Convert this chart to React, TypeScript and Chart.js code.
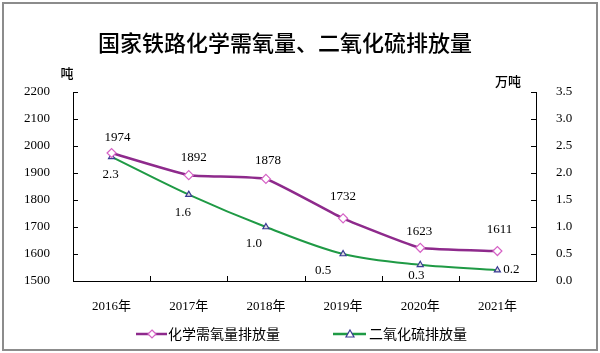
import React, { useEffect, useRef } from "react";
import { Chart, registerables } from "chart.js";

Chart.register(...registerables);

const years = ["2016年", "2017年", "2018年", "2019年", "2020年", "2021年"];
const codValues = [1974, 1892, 1878, 1732, 1623, 1611];
const so2Values = [2.3, 1.6, 1.0, 0.5, 0.3, 0.2];
const codLabel = "化学需氧量排放量";
const so2Label = "二氧化硫排放量";
const titleText = "国家铁路化学需氧量、二氧化硫排放量";
const leftUnit = "吨";
const rightUnit = "万吨";

const PURPLE = "#8E2A8C";
const PURPLE_PT = "#D663C6";
const GREEN = "#1F9A45";
const TRI = "#3B3B94";
const SERIF = "'Liberation Serif', 'Noto Sans CJK SC', serif";
const CJK = "'Noto Sans CJK SC', sans-serif";

// label offsets (style only)
const codLabelOffsets = [[6, -15], [5, -18], [2, -18], [0, -22], [-1, -16], [2, -21]];
const so2LabelOffsets = [[-1, 18], [-6, 18], [-12, 17], [-20, 17], [-4, 11], [14, -1]];

const overlayPlugin = {
  id: "overlay",
  afterDraw(chart: any) {
    const ctx = chart.ctx;
    const area = chart.chartArea;
    const yL = chart.scales.y;
    const yR = chart.scales.y1;
    ctx.save();
    ctx.strokeStyle = "#8c8c8c";
    ctx.lineWidth = 2;
    ctx.strokeRect(3, 3, 594, 347);

    ctx.fillStyle = "#000";
    ctx.textAlign = "center";
    ctx.textBaseline = "middle";
    ctx.font = `500 22px ${CJK}`;
    ctx.fillText(titleText, 285, 43);

    ctx.font = `500 13px ${CJK}`;
    ctx.fillText(leftUnit, 67, 73);
    ctx.fillText(rightUnit, 508, 81);

    ctx.strokeStyle = "#000";
    ctx.lineWidth = 1;
    ctx.beginPath();
    yL.ticks.forEach((t: any) => {
      const py = Math.round(yL.getPixelForValue(t.value)) + 0.5;
      ctx.moveTo(area.left, py);
      ctx.lineTo(area.left + 5, py);
    });
    yR.ticks.forEach((t: any) => {
      const py = Math.round(yR.getPixelForValue(t.value)) + 0.5;
      ctx.moveTo(area.right, py);
      ctx.lineTo(area.right - 5, py);
    });
    const n = years.length;
    const step = (area.right - area.left) / n;
    for (let i = 0; i <= n; i++) {
      const px = Math.round(area.left + i * step) + 0.5;
      ctx.moveTo(px, area.bottom);
      ctx.lineTo(px, area.bottom - 5);
    }
    ctx.stroke();

    ctx.font = `13px ${SERIF}`;
    ctx.fillStyle = "#000";
    const m0 = chart.getDatasetMeta(0);
    m0.data.forEach((p: any, i: number) => {
      const [dx, dy] = codLabelOffsets[i];
      ctx.fillText(String(codValues[i]), p.x + dx, p.y + dy);
    });
    const m1 = chart.getDatasetMeta(1);
    m1.data.forEach((p: any, i: number) => {
      const [dx, dy] = so2LabelOffsets[i];
      ctx.fillText(so2Values[i].toFixed(1), p.x + dx, p.y + dy);
    });

    const ly = 334;
    ctx.lineWidth = 2.5;
    ctx.strokeStyle = PURPLE;
    ctx.beginPath();
    ctx.moveTo(136, ly);
    ctx.lineTo(167, ly);
    ctx.stroke();
    ctx.lineWidth = 1.2;
    ctx.strokeStyle = PURPLE_PT;
    ctx.fillStyle = "#fff";
    ctx.beginPath();
    ctx.moveTo(152, ly - 4);
    ctx.lineTo(156, ly);
    ctx.lineTo(152, ly + 4);
    ctx.lineTo(148, ly);
    ctx.closePath();
    ctx.fill();
    ctx.stroke();

    ctx.lineWidth = 2.5;
    ctx.strokeStyle = GREEN;
    ctx.beginPath();
    ctx.moveTo(333, ly);
    ctx.lineTo(366, ly);
    ctx.stroke();
    ctx.lineWidth = 1.2;
    ctx.strokeStyle = TRI;
    ctx.fillStyle = "#fff";
    ctx.beginPath();
    ctx.moveTo(350, ly - 4);
    ctx.lineTo(354, ly + 3);
    ctx.lineTo(346, ly + 3);
    ctx.closePath();
    ctx.fill();
    ctx.stroke();

    ctx.fillStyle = "#000";
    ctx.textAlign = "left";
    ctx.font = `14px ${CJK}`;
    ctx.fillText(codLabel, 168, ly);
    ctx.fillText(so2Label, 369, ly);
    ctx.restore();
  },
};

export default function App() {
  const ref = useRef<HTMLCanvasElement>(null);
  useEffect(() => {
    document.body.style.margin = "0";
    const chart = new Chart(ref.current!, {
      type: "line",
      data: {
        labels: years,
        datasets: [
          {
            label: codLabel,
            data: codValues,
            yAxisID: "y",
            borderColor: PURPLE,
            borderWidth: 2.5,
            tension: 0.12,
            pointStyle: "rectRot",
            pointRadius: 4.5,
            pointBorderColor: PURPLE_PT,
            pointBackgroundColor: "#fff",
            pointBorderWidth: 1.2,
          },
          {
            label: so2Label,
            data: so2Values,
            yAxisID: "y1",
            borderColor: GREEN,
            borderWidth: 2,
            cubicInterpolationMode: "monotone",
            pointStyle: "triangle",
            pointRadius: 3.5,
            pointBorderColor: TRI,
            pointBackgroundColor: "#ddd",
            pointBorderWidth: 1.2,
          },
        ],
      },
      options: {
        responsive: false,
        animation: false,
        layout: { padding: { top: 92, left: 0, right: 0, bottom: 0 } },
        plugins: { legend: { display: false }, title: { display: false }, tooltip: { enabled: false } },
        scales: {
          x: {
            offset: true,
            grid: { display: false, offset: true },
            border: { display: true, color: "#000", width: 1 },
            ticks: { color: "#000", font: { size: 13, family: SERIF }, padding: 10, maxRotation: 0 },
            afterFit: (s: any) => { s.height = 72; },
          },
          y: {
            position: "left",
            min: 1500,
            max: 2200,
            grid: { display: false },
            border: { display: true, color: "#000", width: 1 },
            ticks: {
              stepSize: 100,
              color: "#000",
              font: { size: 13, family: SERIF },
              padding: 15,
              callback: (v: any) => String(v),
            },
            afterFit: (s: any) => { s.width = 73; },
          },
          y1: {
            position: "right",
            min: 0,
            max: 3.5,
            grid: { display: false },
            border: { display: true, color: "#000", width: 1 },
            ticks: {
              stepSize: 0.5,
              color: "#000",
              font: { size: 13, family: SERIF },
              padding: 12,
              callback: (v: any) => Number(v).toFixed(1),
            },
            afterFit: (s: any) => { s.width = 64; },
          },
        },
      },
      plugins: [overlayPlugin],
    });
    return () => chart.destroy();
  }, []);
  return (
    <div style={{ width: 600, height: 353, position: "relative", background: "#fff" }}>
      <canvas ref={ref} width={600} height={353} />
    </div>
  );
}
